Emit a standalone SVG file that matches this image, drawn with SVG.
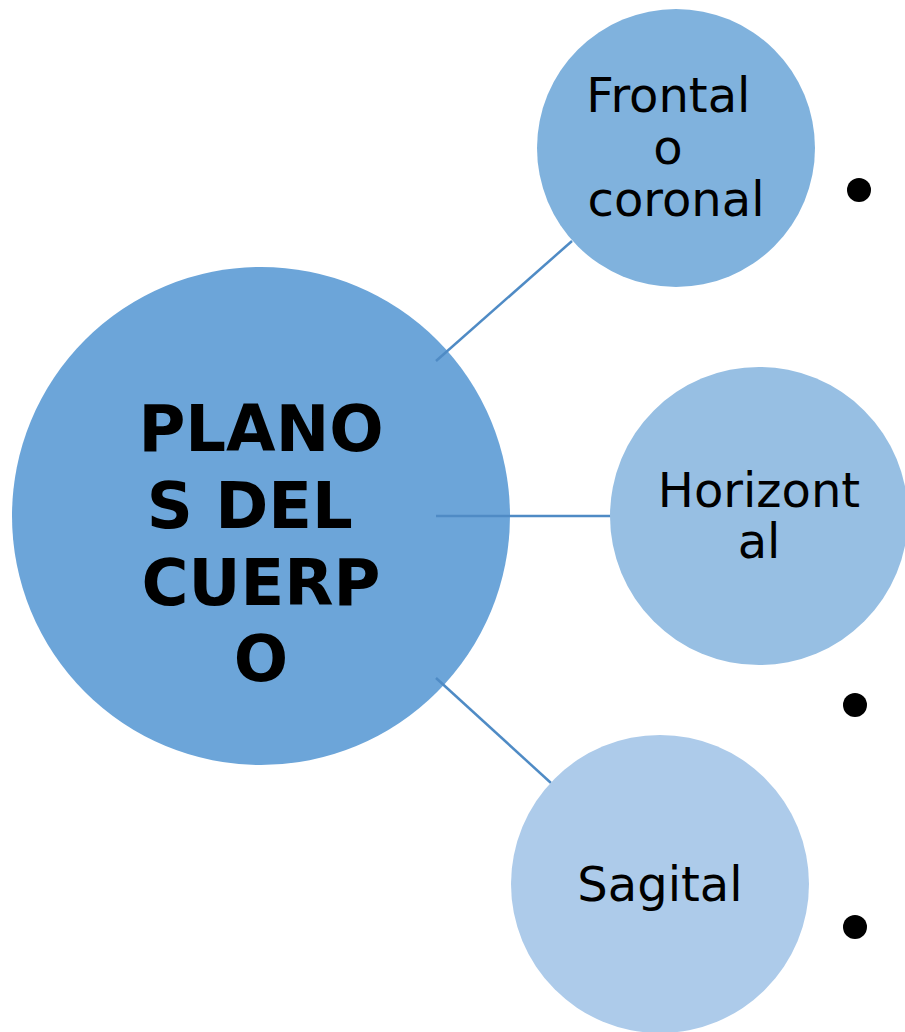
<svg xmlns="http://www.w3.org/2000/svg" width="905" height="1032" viewBox="0 0 905 1032">
<style>
.t{font-family:"DejaVu Sans",sans-serif;font-size:48px;fill:#000;text-anchor:middle}
.m{font-family:"DejaVu Sans",sans-serif;font-size:64px;font-weight:bold;fill:#000;text-anchor:middle}
.c{stroke:#4f8bc5;stroke-width:2.5;fill:none}
</style>
<rect width="905" height="1032" fill="#fff"/>
<g id="main">
<circle cx="261" cy="516" r="249" fill="#6ca5d9"/>
</g>
<g id="connectors">
<line class="c" x1="436" y1="361" x2="572" y2="241"/>
<line class="c" x1="436" y1="516" x2="611" y2="516"/>
<line class="c" x1="436" y1="678" x2="551" y2="783"/>
</g>
<g id="main-label">
<text class="m" x="261" y="451">PLANO</text>
<text class="m" x="261" y="528" xml:space="preserve">S DEL </text>
<text class="m" x="261" y="605">CUERP</text>
<text class="m" x="261" y="681">O</text>
</g>
<g id="frontal">
<circle cx="676" cy="148" r="139" fill="#80b2dd"/>
<text class="t" x="676" y="112" xml:space="preserve">Frontal </text>
<text class="t" x="668" y="164">o</text>
<text class="t" x="676" y="216">coronal</text>
</g>
<g id="horizontal">
<circle cx="759" cy="516" r="149" fill="#97bfe3"/>
<text class="t" x="759" y="507">Horizont</text>
<text class="t" x="759" y="558">al</text>
</g>
<g id="sagital">
<circle cx="660" cy="884" r="149" fill="#adcbea"/>
<text class="t" x="660" y="901">Sagital</text>
</g>
<g id="bullets" fill="#000">
<circle cx="859" cy="190" r="12"/>
<circle cx="855" cy="705" r="12"/>
<circle cx="855" cy="927" r="12"/>
</g>
</svg>
